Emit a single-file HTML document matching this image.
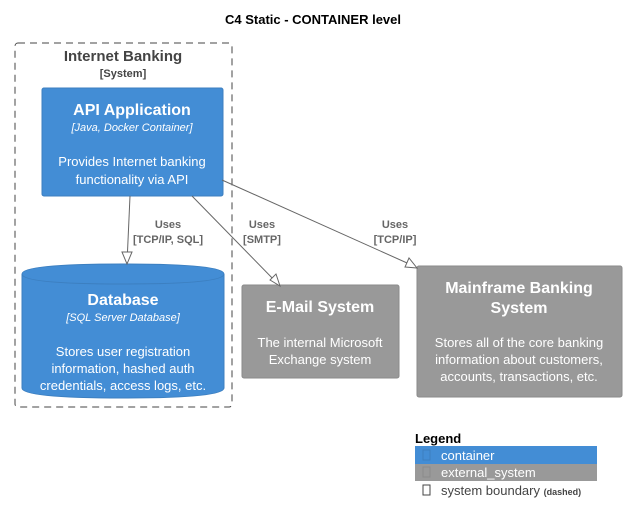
<!DOCTYPE html>
<html><head><style>body{margin:0;background:#fff}svg{display:block}text{font-family:"Liberation Sans",sans-serif}</style></head><body>
<svg width="627" height="525" viewBox="0 0 627 525" xmlns="http://www.w3.org/2000/svg">
<text x="313" y="24" text-anchor="middle" font-size="13" font-weight="bold" fill="#000">C4 Static - CONTAINER level</text>
<rect x="15" y="43" width="217" height="364" rx="3" fill="none" stroke="#444" stroke-dasharray="7,5"/>
<text x="123" y="61" text-anchor="middle" font-size="15" font-weight="bold" fill="#444">Internet Banking</text>
<text x="123" y="77" text-anchor="middle" font-size="11" font-weight="bold" fill="#444">[System]</text>
<rect x="42" y="88" width="181" height="108" rx="2" fill="#438DD5" stroke="#3C7FC0"/>
<text x="132" y="115" text-anchor="middle" font-size="16" font-weight="bold" fill="#fff">API Application</text>
<text x="132" y="131" text-anchor="middle" font-size="11" font-style="italic" fill="#fff">[Java, Docker Container]</text>
<text x="132" y="166" text-anchor="middle" font-size="13" fill="#fff">Provides Internet banking</text>
<text x="132" y="184" text-anchor="middle" font-size="13" fill="#fff">functionality via API</text>
<path d="M22 274 Q22 264 123 264 Q224 264 224 274 L224 388 Q224 398 123 398 Q22 398 22 388 Z" fill="#438DD5" stroke="#3C7FC0"/>
<path d="M22 274 Q22 284 123 284 Q224 284 224 274" fill="none" stroke="#3C7FC0"/>
<text x="123" y="305" text-anchor="middle" font-size="16" font-weight="bold" fill="#fff">Database</text>
<text x="123" y="321" text-anchor="middle" font-size="11" font-style="italic" fill="#fff">[SQL Server Database]</text>
<text x="123" y="356" text-anchor="middle" font-size="13" fill="#fff">Stores user registration</text>
<text x="123" y="373" text-anchor="middle" font-size="13" fill="#fff">information, hashed auth</text>
<text x="123" y="390" text-anchor="middle" font-size="13" fill="#fff">credentials, access logs, etc.</text>
<rect x="242" y="285" width="157" height="93" rx="2" fill="#999" stroke="#8A8A8A"/>
<text x="320" y="312" text-anchor="middle" font-size="16" font-weight="bold" fill="#fff">E-Mail System</text>
<text x="320" y="347" text-anchor="middle" font-size="13" fill="#fff">The internal Microsoft</text>
<text x="320" y="364" text-anchor="middle" font-size="13" fill="#fff">Exchange system</text>
<rect x="417" y="266" width="205" height="131" rx="2" fill="#999" stroke="#8A8A8A"/>
<text x="519" y="293" text-anchor="middle" font-size="16" font-weight="bold" fill="#fff">Mainframe Banking</text>
<text x="519" y="313" text-anchor="middle" font-size="16" font-weight="bold" fill="#fff">System</text>
<text x="519" y="347" text-anchor="middle" font-size="13" fill="#fff">Stores all of the core banking</text>
<text x="519" y="364" text-anchor="middle" font-size="13" fill="#fff">information about customers,</text>
<text x="519" y="381" text-anchor="middle" font-size="13" fill="#fff">accounts, transactions, etc.</text>
<g stroke="#666" fill="none">
<line x1="130" y1="196" x2="127" y2="263"/>
<path d="M122 252 L127 264 L132 252 Z" fill="#fff"/>
<line x1="192" y1="196" x2="279" y2="285"/>
<path d="M270 280 L280 286 L276 274 Z" fill="#fff"/>
<line x1="222" y1="180" x2="416" y2="267"/>
<path d="M405 267 L417 268 L409 258 Z" fill="#fff"/>
</g>
<g font-size="11" font-weight="bold" fill="#666" text-anchor="middle">
<text x="168" y="228">Uses</text><text x="168" y="243">[TCP/IP, SQL]</text>
<text x="262" y="228">Uses</text><text x="262" y="243">[SMTP]</text>
<text x="395" y="228">Uses</text><text x="395" y="243">[TCP/IP]</text>
</g>
<text x="415" y="443" font-size="13" font-weight="bold" fill="#000">Legend</text>
<rect x="415" y="446" width="182" height="18" fill="#438DD5"/>
<rect x="415" y="464" width="182" height="17" fill="#999"/>
<rect x="423" y="450" width="7" height="10" fill="none" stroke="#3C7FC0"/>
<rect x="423" y="467" width="7" height="10" fill="none" stroke="#8A8A8A"/>
<rect x="423" y="485" width="7" height="10" fill="none" stroke="#444"/>
<text x="441" y="460" font-size="13" fill="#fff">container</text>
<text x="441" y="477" font-size="13" fill="#fff">external_system</text>
<text x="441" y="495" font-size="13" fill="#444">system boundary <tspan font-size="9" font-weight="bold">(dashed)</tspan></text>
</svg>
</body></html>
